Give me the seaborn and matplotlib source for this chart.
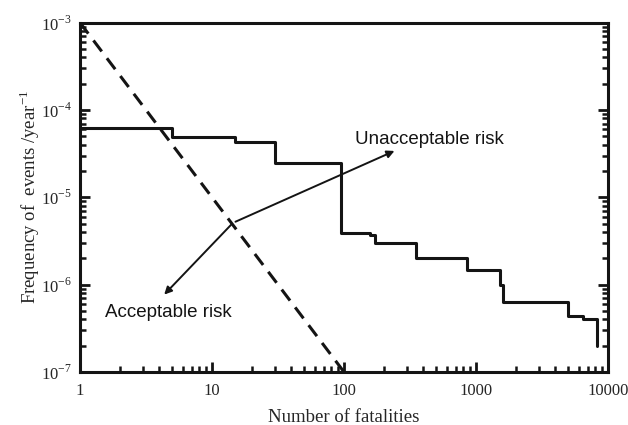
import numpy as np
import matplotlib
matplotlib.use("Agg")
import matplotlib.pyplot as plt
import seaborn as sns

# F-N curve data (number of fatalities vs frequency of events)
fatalities = [1, 5, 15, 30, 95, 157, 172, 349, 849, 1517, 1610, 5000, 6500, 8200]
frequency = [6.3e-5, 4.9e-5, 4.3e-5, 2.46e-5, 3.9e-6, 3.7e-6, 3.0e-6,
             2.0e-6, 1.49e-6, 1.0e-6, 6.4e-7, 4.4e-7, 4.0e-7, 2.0e-7]

# acceptability criterion line (slope -2)
criterion_n = [1, 100]
criterion_f = [1e-3, 1e-7]

x_ticks = [1, 10, 100, 1000, 10000]
x_tick_labels = ["1", "10", "100", "1000", "10000"]
y_ticks = [1e-7, 1e-6, 1e-5, 1e-4, 1e-3]
y_tick_labels = [r"10$^{-7}$", r"10$^{-6}$", r"10$^{-5}$", r"10$^{-4}$", r"10$^{-3}$"]

sns.set_style("ticks")
plt.rcParams["font.family"] = ["Liberation Serif", "DejaVu Serif"]
plt.rcParams["mathtext.fontset"] = "custom"
plt.rcParams["mathtext.rm"] = "Liberation Serif"

fig = plt.figure(figsize=(6.28, 4.25), dpi=100)
ax = fig.add_axes([0.1274, 0.1247, 0.8408, 0.822])

sns.lineplot(x=fatalities, y=frequency, ax=ax, color="#141414",
             drawstyle="steps-post", linewidth=2.2, estimator=None)
sns.lineplot(x=criterion_n, y=criterion_f, ax=ax, color="#141414",
             linewidth=2.2, dashes=False, estimator=None)
ax.lines[-1].set_dashes((4.5, 2.8))

ax.set_xscale("log")
ax.set_yscale("log")
ax.set_xlim(1, 10000)
ax.set_ylim(1e-7, 1e-3)
ax.set_xticks(x_ticks)
ax.set_xticklabels(x_tick_labels)
ax.set_yticks(y_ticks)
ax.set_yticklabels(y_tick_labels)

for side in ["left", "right", "top", "bottom"]:
    ax.spines[side].set_linewidth(2.2)
    ax.spines[side].set_color("#141414")
ax.tick_params(which="both", direction="in", left=True, right=True, top=False,
               bottom=True, color="#141414", labelsize=12)
ax.tick_params(axis="x", which="both", pad=8)
ax.tick_params(axis="y", which="both", pad=6)
ax.tick_params(which="major", length=7, width=2)
ax.tick_params(which="minor", length=4, width=1.8)

ax.set_xlabel("Number of fatalities", fontsize=13.5, labelpad=7)
ax.set_ylabel("Frequency of  events /year$^{-1}$", fontsize=13.5, labelpad=-1)

arrow = dict(arrowstyle="-|>", color="#141414", lw=1.4, mutation_scale=11)
ax.annotate("", xy=(4.2, 7.3e-7), xytext=(14.4, 5.1e-6), arrowprops=arrow)
ax.annotate("", xy=(252, 3.5e-5), xytext=(14.4, 5.1e-6), arrowprops=arrow)
ax.text(1.55, 4.8e-7, "Acceptable risk", fontsize=13.5, family="Liberation Sans",
        va="center", ha="left", color="#141414")
ax.text(121, 4.6e-5, "Unacceptable risk", fontsize=13.5, family="Liberation Sans",
        va="center", ha="left", color="#141414")

fig.savefig("out.png", dpi=100)
